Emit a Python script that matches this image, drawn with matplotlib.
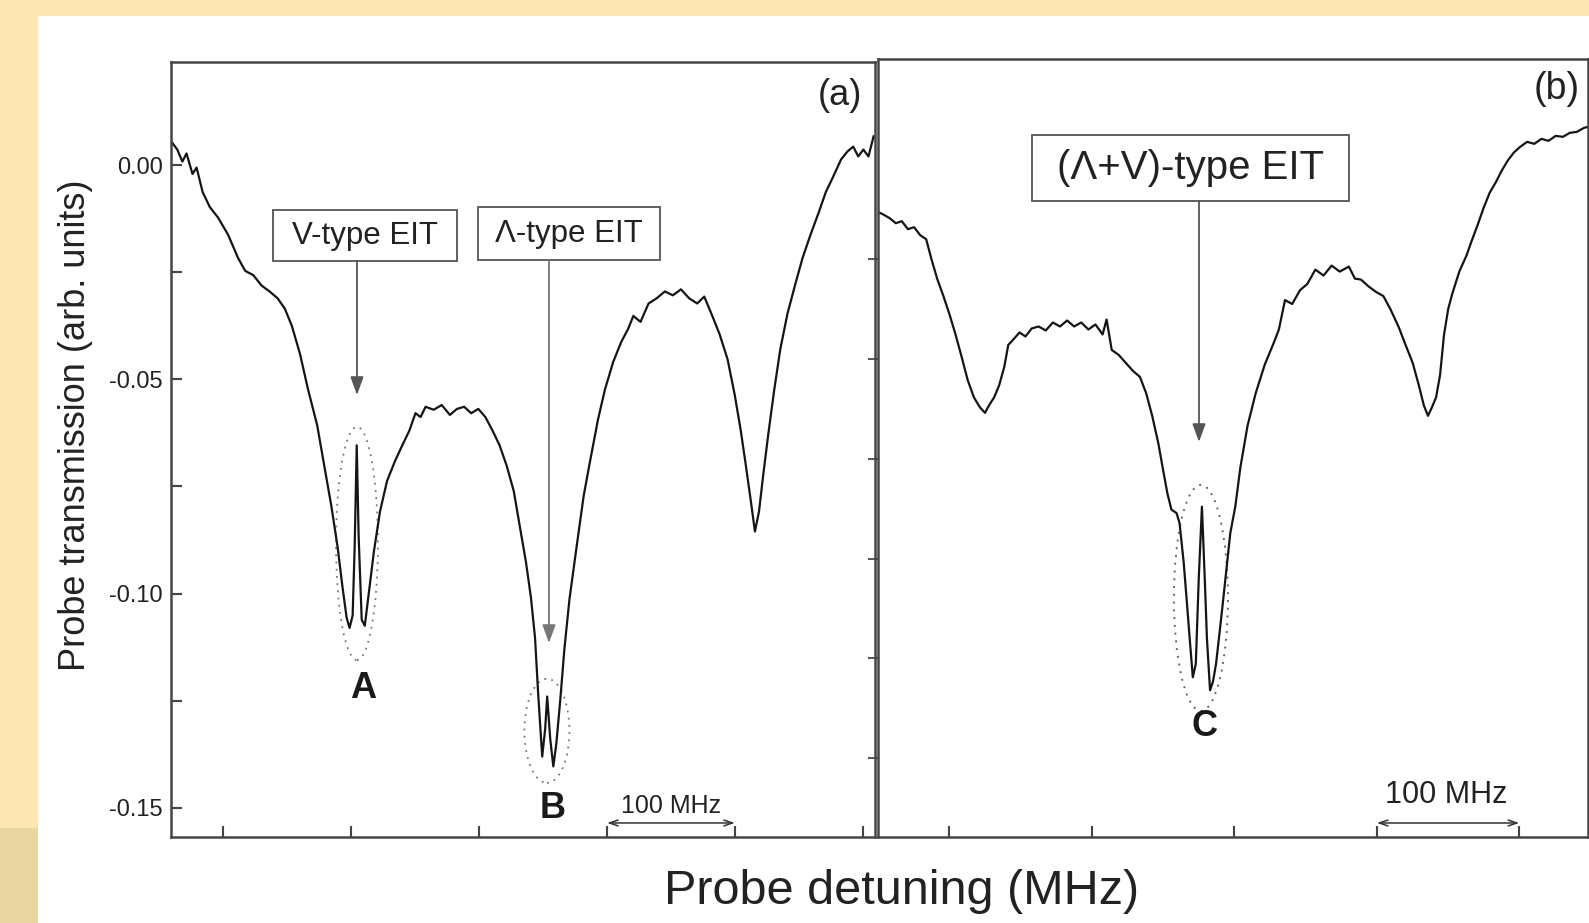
import matplotlib.pyplot as plt
from matplotlib.patches import Ellipse, Rectangle
from matplotlib.ticker import MultipleLocator, FixedLocator, NullFormatter

plt.rcParams['font.family'] = ['Liberation Sans', 'DejaVu Sans']
plt.rcParams['axes.unicode_minus'] = False

# panel (a): probe detuning (MHz) vs probe transmission
a_mhz = [-40.4, -35.7, -31.7, -28.5, -23.8, -20.6, -15.9, -10.3, -4.0, 3.9, 11.8, 17.4, 23.7, 30.1, 36.4,
         42.7, 48.3, 53.8, 60.2, 66.5, 73.6, 79.1, 84.7, 89.5, 93.4, 96.6, 98.9, 101.3, 102.9, 104.5, 106.0,
         108.4, 110.8, 114.0, 117.9, 122.7, 128.2, 134.5, 140.1, 145.7, 150.4, 154.4, 158.3, 164.6, 170.9,
         177.3, 182.8, 188.4, 193.9, 199.5, 205.0, 210.5, 216.1, 221.6, 227.2, 231.9, 236.7, 240.6, 243.8,
         246.2, 249.4, 251.7, 253.3, 255.7, 258.1, 260.4, 263.6, 266.8, 270.7, 276.3, 281.8, 286.6, 292.9,
         298.4, 304.8, 311.1, 316.6, 320.6, 326.2, 332.5, 338.8, 345.2, 351.5, 357.8, 364.2, 370.5, 376.0,
         381.6, 387.9, 394.2, 399.8, 404.5, 408.5, 412.4, 415.6, 418.8, 422.0, 425.9, 430.7, 435.4, 441.0,
         447.3, 452.8, 459.1, 465.5, 471.0, 476.6, 482.9, 487.7, 492.4, 496.3, 500.3, 504.3, 508.3]
a_trans = [0.0055, 0.0036, 0.0008, 0.0027, -0.0021, -0.0006, -0.0063, -0.0098, -0.0122, -0.0162, -0.0217,
           -0.0247, -0.0257, -0.0281, -0.0295, -0.0311, -0.0335, -0.0375, -0.0441, -0.0524, -0.0607, -0.0701,
           -0.0796, -0.0890, -0.0985, -0.1056, -0.1080, -0.1051, -0.0890, -0.0654, -0.0867, -0.1061, -0.1075,
           -0.0997, -0.0902, -0.0808, -0.0737, -0.0690, -0.0654, -0.0619, -0.0579, -0.0588, -0.0564, -0.0571,
           -0.0560, -0.0583, -0.0569, -0.0564, -0.0579, -0.0569, -0.0588, -0.0619, -0.0654, -0.0701, -0.0761,
           -0.0843, -0.0926, -0.1009, -0.1103, -0.1231, -0.1380, -0.1316, -0.1240, -0.1340, -0.1403, -0.1351,
           -0.1245, -0.1127, -0.1013, -0.0890, -0.0772, -0.0694, -0.0595, -0.0524, -0.0460, -0.0413, -0.0382,
           -0.0352, -0.0366, -0.0323, -0.0311, -0.0295, -0.0304, -0.0290, -0.0311, -0.0323, -0.0307, -0.0347,
           -0.0394, -0.0453, -0.0536, -0.0619, -0.0701, -0.0784, -0.0855, -0.0808, -0.0725, -0.0631, -0.0524,
           -0.0430, -0.0347, -0.0276, -0.0217, -0.0162, -0.0110, -0.0063, -0.0028, 0.0013, 0.0031, 0.0043,
           0.0020, 0.0036, 0.0020, 0.0067]

# panel (b)
b_mhz = [-50.3, -46.0, -41.8, -37.5, -33.3, -29.0, -24.7, -20.4, -16.2, -12.6, -8.4, -4.1, 0.2, 4.4, 8.7,
         13.0, 17.3, 21.5, 25.1, 27.9, 31.5, 35.0, 38.6, 41.4, 45.0, 49.3, 53.5, 57.8, 62.7, 67.7, 72.7,
         77.7, 82.7, 87.6, 92.6, 97.6, 102.6, 107.6, 110.4, 114.0, 118.9, 123.9, 128.9, 133.8, 138.2, 142.4,
         146.7, 150.2, 153.1, 155.9, 159.5, 161.6, 164.5, 166.6, 168.7, 170.9, 173.0, 175.1, 177.3, 179.4,
         180.8, 183.0, 185.1, 187.2, 190.0, 192.2, 195.0, 197.2, 200.7, 204.3, 209.3, 215.0, 221.3, 227.8,
         231.3, 235.6, 240.6, 246.2, 251.2, 256.9, 262.6, 268.3, 274.0, 280.4, 284.6, 288.9, 293.9, 299.6,
         304.6, 309.5, 315.2, 320.2, 325.2, 329.5, 333.0, 335.9, 338.7, 341.6, 344.4, 347.2, 350.1, 352.9,
         357.9, 362.9, 366.5, 370.7, 375.0, 379.2, 383.5, 387.8, 392.0, 396.3, 400.6, 405.5, 410.5, 415.5,
         420.5, 425.5, 430.5, 435.4, 440.4, 445.4, 448.2]
b_trans = [0.0095, 0.0089, 0.0082, 0.0072, 0.0076, 0.0060, 0.0064, 0.0048, 0.0040, 0.0001, -0.0040, -0.0074,
           -0.0111, -0.0151, -0.0196, -0.0243, -0.0277, -0.0297, -0.0308, -0.0293, -0.0277, -0.0253, -0.0216,
           -0.0172, -0.0161, -0.0147, -0.0155, -0.0139, -0.0135, -0.0143, -0.0127, -0.0135, -0.0123, -0.0135,
           -0.0127, -0.0141, -0.0131, -0.0151, -0.0121, -0.0182, -0.0192, -0.0208, -0.0224, -0.0236, -0.0269,
           -0.0314, -0.0369, -0.0425, -0.0470, -0.0502, -0.0509, -0.0529, -0.0608, -0.0683, -0.0760, -0.0838,
           -0.0811, -0.0638, -0.0496, -0.0649, -0.0760, -0.0864, -0.0846, -0.0811, -0.0740, -0.0683, -0.0608,
           -0.0549, -0.0496, -0.0417, -0.0334, -0.0269, -0.0212, -0.0167, -0.0141, -0.0082, -0.0090, -0.0062,
           -0.0050, -0.0021, -0.0033, -0.0013, -0.0025, -0.0015, -0.0039, -0.0041, -0.0054, -0.0066, -0.0074,
           -0.0100, -0.0135, -0.0172, -0.0208, -0.0253, -0.0293, -0.0314, -0.0297, -0.0277, -0.0232, -0.0151,
           -0.0100, -0.0070, -0.0025, 0.0007, 0.0036, 0.0068, 0.0103, 0.0133, 0.0154, 0.0178, 0.0198, 0.0214,
           0.0225, 0.0235, 0.0231, 0.0241, 0.0237, 0.0247, 0.0245, 0.0253, 0.0255, 0.0263, 0.0265]

a_xticks = [0, 100, 200, 300, 400, 500]
b_xticks = [0, 100, 200, 300, 400]
b_yticks = [0.0, -0.02, -0.04, -0.06, -0.08, -0.10]

W, H = 1589, 923
fig = plt.figure(figsize=(W / 100, H / 100), dpi=100)
fig.patch.set_facecolor('#FCE7B2')

# background: white slide area + darker corner of the yellow frame
bg = fig.add_axes([0, 0, 1, 1], zorder=-10)
bg.set_axis_off()
bg.set_xlim(0, 1)
bg.set_ylim(0, 1)
bg.add_patch(Rectangle((38 / W, 0), 1, 1 - 16 / H, facecolor='white', edgecolor='none'))
bg.add_patch(Rectangle((0, 0), 38 / W, 95 / H, facecolor='#E9D7A2', edgecolor='none'))

ax1 = fig.add_axes([171 / W, 1 - 837 / H, 704 / W, 775 / H])
ax2 = fig.add_axes([878 / W, 1 - 837 / H, 710 / W, 778 / H])

line_c = '#151515'
spine_c = '#454545'
grey = '#555555'

for ax in (ax1, ax2):
    ax.set_facecolor('none')
    for s in ax.spines.values():
        s.set_color(spine_c)
        s.set_linewidth(1.8)

# ---- panel (a)
ax1.plot(a_mhz, a_trans, color=line_c, lw=1.6)
ax1.set_xlim(-40.6, 509.4)
ax1.set_ylim(-0.15677, 0.02403)
ax1.xaxis.set_major_locator(FixedLocator(a_xticks))
ax1.xaxis.set_major_formatter(NullFormatter())
ax1.yaxis.set_major_locator(MultipleLocator(0.05))
ax1.yaxis.set_minor_locator(MultipleLocator(0.025))
ax1.yaxis.set_major_formatter(lambda v, p: f'{v:.2f}')
ax1.tick_params(axis='both', which='both', direction='in', length=8, width=1.5, color=spine_c,
                labelsize=17, labelcolor='#222222', pad=6)
ax1.tick_params(top=False, right=False)

ax1.text(0.950, 0.957, '(a)', transform=ax1.transAxes, ha='center', va='center', fontsize=26, color='#222')

# annotation boxes + arrows
def label_box(ax, x0, y0, x1, y1, text, size, ax_x, tip_y, arrow_c):
    ax.add_patch(Rectangle((x0, y0), x1 - x0, y1 - y0, transform=ax.transAxes, fill=False,
                           edgecolor=grey, lw=1.3))
    ax.text((x0 + x1) / 2, (y0 + y1) / 2, text, transform=ax.transAxes, ha='center', va='center',
            fontsize=size, color='#222')
    ax.annotate('', xy=(ax_x, tip_y), xytext=(ax_x, y0), xycoords='axes fraction',
                arrowprops=dict(arrowstyle='-|>,head_length=0.55,head_width=0.2', color=arrow_c,
                                lw=1.3, mutation_scale=20, shrinkA=0, shrinkB=0))

label_box(ax1, 0.1449, 0.7432, 0.4063, 0.8090, 'V-type EIT', 22.5, 0.2642, 0.5703, '#555')
label_box(ax1, 0.4361, 0.7445, 0.6946, 0.8129, 'Λ-type EIT', 22.5, 0.5369, 0.2503, '#777')

ax1.add_patch(Ellipse((104.7, -0.0883), 32.8, 0.0544, fill=False, edgecolor='#777', lw=1.3,
                      linestyle=(0, (1, 3))))
ax1.add_patch(Ellipse((253.1, -0.1320), 35.2, 0.0243, fill=False, edgecolor='#777', lw=1.3,
                      linestyle=(0, (1, 3))))
ax1.text(0.2727, 0.1910, 'A', transform=ax1.transAxes, ha='center', va='center', fontsize=26,
         fontweight='bold', color='#1a1a1a')
ax1.text(0.5419, 0.0368, 'B', transform=ax1.transAxes, ha='center', va='center', fontsize=26,
         fontweight='bold', color='#1a1a1a')

# 100 MHz scale bar
ax1.annotate('', xy=(400, 0.0181), xytext=(300, 0.0181), xycoords=('data', 'axes fraction'),
             arrowprops=dict(arrowstyle='<->,head_length=0.45,head_width=0.15', color='#333', lw=1.1,
                             mutation_scale=14, shrinkA=0, shrinkB=0))
ax1.text(350, 0.0400, '100 MHz', transform=ax1.get_xaxis_transform(), ha='center', va='center',
         fontsize=18, color='#222')

# ---- panel (b)
ax2.plot(b_mhz, b_trans, color=line_c, lw=1.6)
ax2.set_xlim(-50.0, 448.2)
ax2.set_ylim(-0.1158, 0.0401)
ax2.xaxis.set_major_locator(FixedLocator(b_xticks))
ax2.yaxis.set_major_locator(FixedLocator(b_yticks))
ax2.xaxis.set_major_formatter(NullFormatter())
ax2.yaxis.set_major_formatter(NullFormatter())
ax2.tick_params(axis='x', direction='in', length=8, width=1.5, color=spine_c)
ax2.tick_params(axis='y', direction='out', length=7, width=1.3, color=spine_c)

ax2.text(0.956, 0.961, '(b)', transform=ax2.transAxes, ha='center', va='center', fontsize=27, color='#222')
label_box(ax2, 0.2169, 0.8175, 0.6634, 0.9023, '(Λ+V)-type EIT', 29, 0.4521, 0.5077, '#555')
ax2.add_patch(Ellipse((176.6, -0.0679), 37.9, 0.0453, fill=False, edgecolor='#666', lw=1.4,
                      linestyle=(0, (1, 3))))
ax2.text(0.4592, 0.1418, 'C', transform=ax2.transAxes, ha='center', va='center', fontsize=26,
         fontweight='bold', color='#1a1a1a')
ax2.annotate('', xy=(400, 0.018), xytext=(300, 0.018), xycoords=('data', 'axes fraction'),
             arrowprops=dict(arrowstyle='<->,head_length=0.45,head_width=0.15', color='#333', lw=1.1,
                             mutation_scale=14, shrinkA=0, shrinkB=0))
ax2.text(348.6, 0.0545, '100 MHz', transform=ax2.get_xaxis_transform(), ha='center', va='center',
         fontsize=22, color='#222')

# axis titles
fig.text(902 / W, 1 - 892 / H, 'Probe detuning (MHz)', ha='center', va='center', fontsize=35, color='#222')
fig.text(76 / W, 1 - 425 / H, 'Probe transmission (arb. units)', ha='center', va='center', rotation=90,
         fontsize=26, color='#222')

fig.savefig('out.png', dpi=100)
